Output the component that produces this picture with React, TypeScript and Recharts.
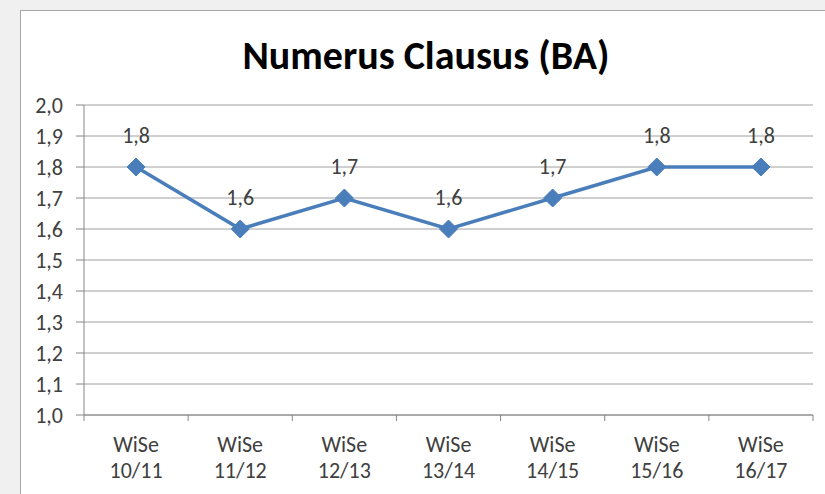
import React from 'react'
import { LineChart, Line, XAxis, YAxis, CartesianGrid, LabelList } from 'recharts'

const semesters = ['WiSe 10/11', 'WiSe 11/12', 'WiSe 12/13', 'WiSe 13/14', 'WiSe 14/15', 'WiSe 15/16', 'WiSe 16/17']
const nc = [1.8, 1.6, 1.7, 1.6, 1.7, 1.8, 1.8]
const yTicks = [1.0, 1.1, 1.2, 1.3, 1.4, 1.5, 1.6, 1.7, 1.8, 1.9, 2.0]

const data = semesters.map((s, i) => ({ name: s, value: nc[i] }))

const W = 825
const H = 494
const M = { top: 105, right: 12, bottom: 0, left: 0 }
const Y_W = 84
const X_H = 79
const PLOT_W = W - Y_W - M.right
const BAND = PLOT_W / semesters.length
const FONT = "Carlito, 'Open Sans', sans-serif"
const BLUE = '#4a7ebb'
const TXT = '#404040'

const fmt = (v: number) => v.toFixed(1).replace('.', ',')

function Diamond(props: any) {
  const { cx, cy } = props
  if (cx == null || cy == null) return null
  const r = 9
  return <polygon points={`${cx},${cy - r} ${cx + r},${cy} ${cx},${cy + r} ${cx - r},${cy}`} fill={BLUE} stroke={BLUE} />
}

function XTick(props: any) {
  const { x, y, payload, index } = props
  const [a, b] = String(payload.value).split(' ')
  const left = x - BAND / 2
  return (
    <g>
      <line x1={left} x2={left} y1={y - 8} y2={y - 2} stroke="#868686" />
      {index === semesters.length - 1 && (
        <line x1={x + BAND / 2} x2={x + BAND / 2} y1={y - 8} y2={y - 2} stroke="#868686" />
      )}
      <text x={x} y={y + 29} textAnchor="middle" fontSize={22} fill={TXT} fontFamily={FONT}>{a}</text>
      <text x={x} y={y + 55} textAnchor="middle" fontSize={22} fill={TXT} fontFamily={FONT}>{b}</text>
    </g>
  )
}

function ValueLabel(props: any) {
  const { x, y, value } = props
  return (
    <text x={x} y={y - 24} textAnchor="middle" fontSize={22} fill={TXT} fontFamily={FONT}>{fmt(value)}</text>
  )
}

export default function App() {
  return (
    <div style={{ position: 'fixed', left: 0, top: 0, width: W, height: H, background: '#f0f0f0', overflow: 'hidden' }}>
      <div style={{ position: 'absolute', left: 20, top: 10, width: 900, height: 600, background: '#fff', borderTop: '1px solid #a6a6a6', borderLeft: '1px solid #a6a6a6' }} />
      <div style={{ position: 'absolute', left: 0, top: 36, width: 852, textAlign: 'center', fontFamily: FONT, fontWeight: 700, fontSize: 40, lineHeight: '40px', color: '#000' }}>
        Numerus Clausus (BA)
      </div>
      <div style={{ position: 'absolute', left: 0, top: 0 }}>
        <LineChart width={W} height={H} data={data} margin={M}>
          <CartesianGrid vertical={false} stroke="#a0a0a0" />
          <XAxis
            dataKey="name"
            scale="band"
            height={X_H}
            tick={<XTick />}
            tickLine={false}
            axisLine={{ stroke: '#868686' }}
            interval={0}
          />
          <YAxis
            domain={[1, 2]}
            ticks={yTicks}
            width={Y_W}
            tickFormatter={fmt}
            tickSize={8}
            tickMargin={13}
            tickLine={{ stroke: '#868686' }}
            axisLine={{ stroke: '#868686' }}
            tick={{ fontSize: 22, fill: TXT, fontFamily: FONT }}
            interval={0}
          />
          <Line dataKey="value" stroke={BLUE} strokeWidth={3.5} dot={<Diamond />} activeDot={false} isAnimationActive={false}>
            <LabelList dataKey="value" content={<ValueLabel />} />
          </Line>
        </LineChart>
      </div>
    </div>
  )
}
